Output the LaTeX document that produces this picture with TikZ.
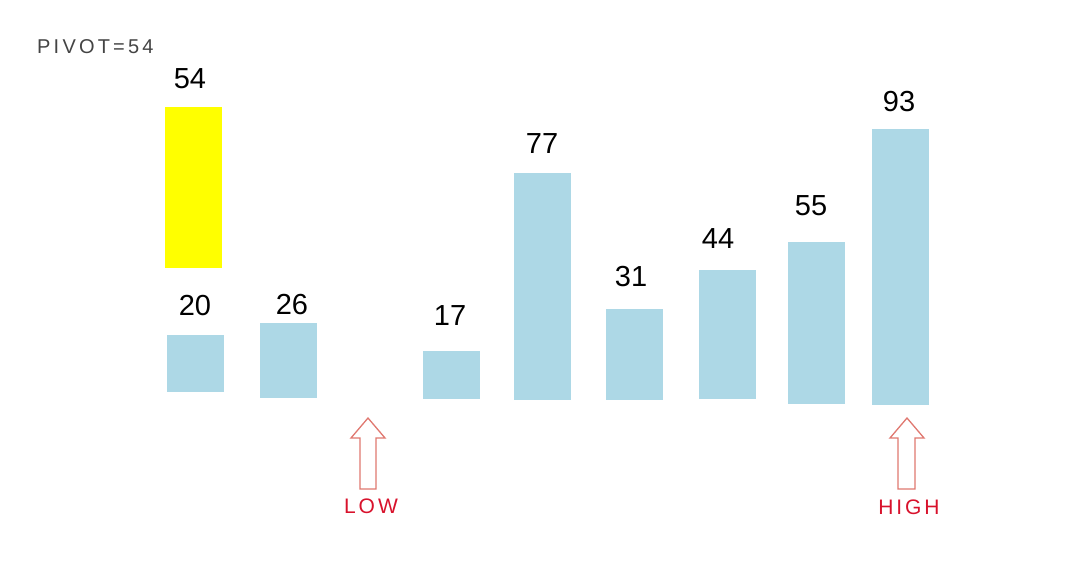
\documentclass[tikz,border=0pt]{standalone}
\usepackage{fontspec}
\setmainfont{Liberation Sans}
\usepackage{tikz}

\definecolor{barblue}{HTML}{ADD8E6}
\definecolor{pivotyellow}{RGB}{255,255,0}
\definecolor{pivotgray}{HTML}{444444}
\definecolor{ptrline}{HTML}{E07870}
\definecolor{ptrtext}{HTML}{D8122C}

\begin{document}
\begin{tikzpicture}[
            x=1pt, y=-1pt,
            bar/.style={fill=barblue, draw=none, inner sep=0pt, minimum width=57pt, anchor=south},
            val/.style={font=\fontsize{29}{29}\selectfont, text=black, inner sep=0pt},
            ptr/.style={draw=ptrline, line width=1.3pt, fill=white, line join=miter},
            ptrlabel/.style={text=ptrtext, inner sep=0pt,
                font=\fontsize{21}{21}\selectfont\addfontfeature{LetterSpace=14}}
        ]
            \useasboundingbox (0,0) rectangle (1090,565);

            \node[anchor=west, inner sep=0pt, text=pivotgray,
                font=\fontsize{20}{20}\selectfont\addfontfeature{LetterSpace=16}] (pivot) at (37,46.5) {PIVOT=54};

            % bars
            \node[bar, fill=pivotyellow, minimum height=161pt] (b54) at (193,268) {};
            \node[bar, minimum height=57pt]  (b20) at (195.5,392) {};
            \node[bar, minimum height=75pt]  (b26) at (288.5,398) {};
            \node[bar, minimum height=48pt]  (b17) at (451.5,399) {};
            \node[bar, minimum height=227pt] (b77) at (542.5,400) {};
            \node[bar, minimum height=91pt]  (b31) at (634.5,400) {};
            \node[bar, minimum height=129pt] (b44) at (727,399) {};
            \node[bar, minimum height=162pt] (b55) at (816,404) {};
            \node[bar, minimum height=276pt] (b93) at (900.5,405) {};

            % values
            \node[val] (v54) at (190,79) {54};
            \node[val] (v20) at (195,306) {20};
            \node[val] (v26) at (292,305) {26};
            \node[val] (v17) at (450,316) {17};
            \node[val] (v77) at (542,144) {77};
            \node[val] (v31) at (631,277) {31};
            \node[val] (v44) at (718,239) {44};
            \node[val] (v55) at (811,206) {55};
            \node[val] (v93) at (899,102) {93};

            % pointers
            \draw[ptr] (368,418) -- (385,438) -- (376,438) -- (376,489)
                -- (360,489) -- (360,438) -- (351,438) -- cycle;
            \draw[ptr] (907,418) -- (924,438) -- (915,438) -- (915,489)
                -- (898,489) -- (898,438) -- (890,438) -- cycle;
            \node[ptrlabel] (low) at (371,506) {LOW};
            \node[ptrlabel] (high) at (909,507) {HIGH};
        \end{tikzpicture}
\end{document}
